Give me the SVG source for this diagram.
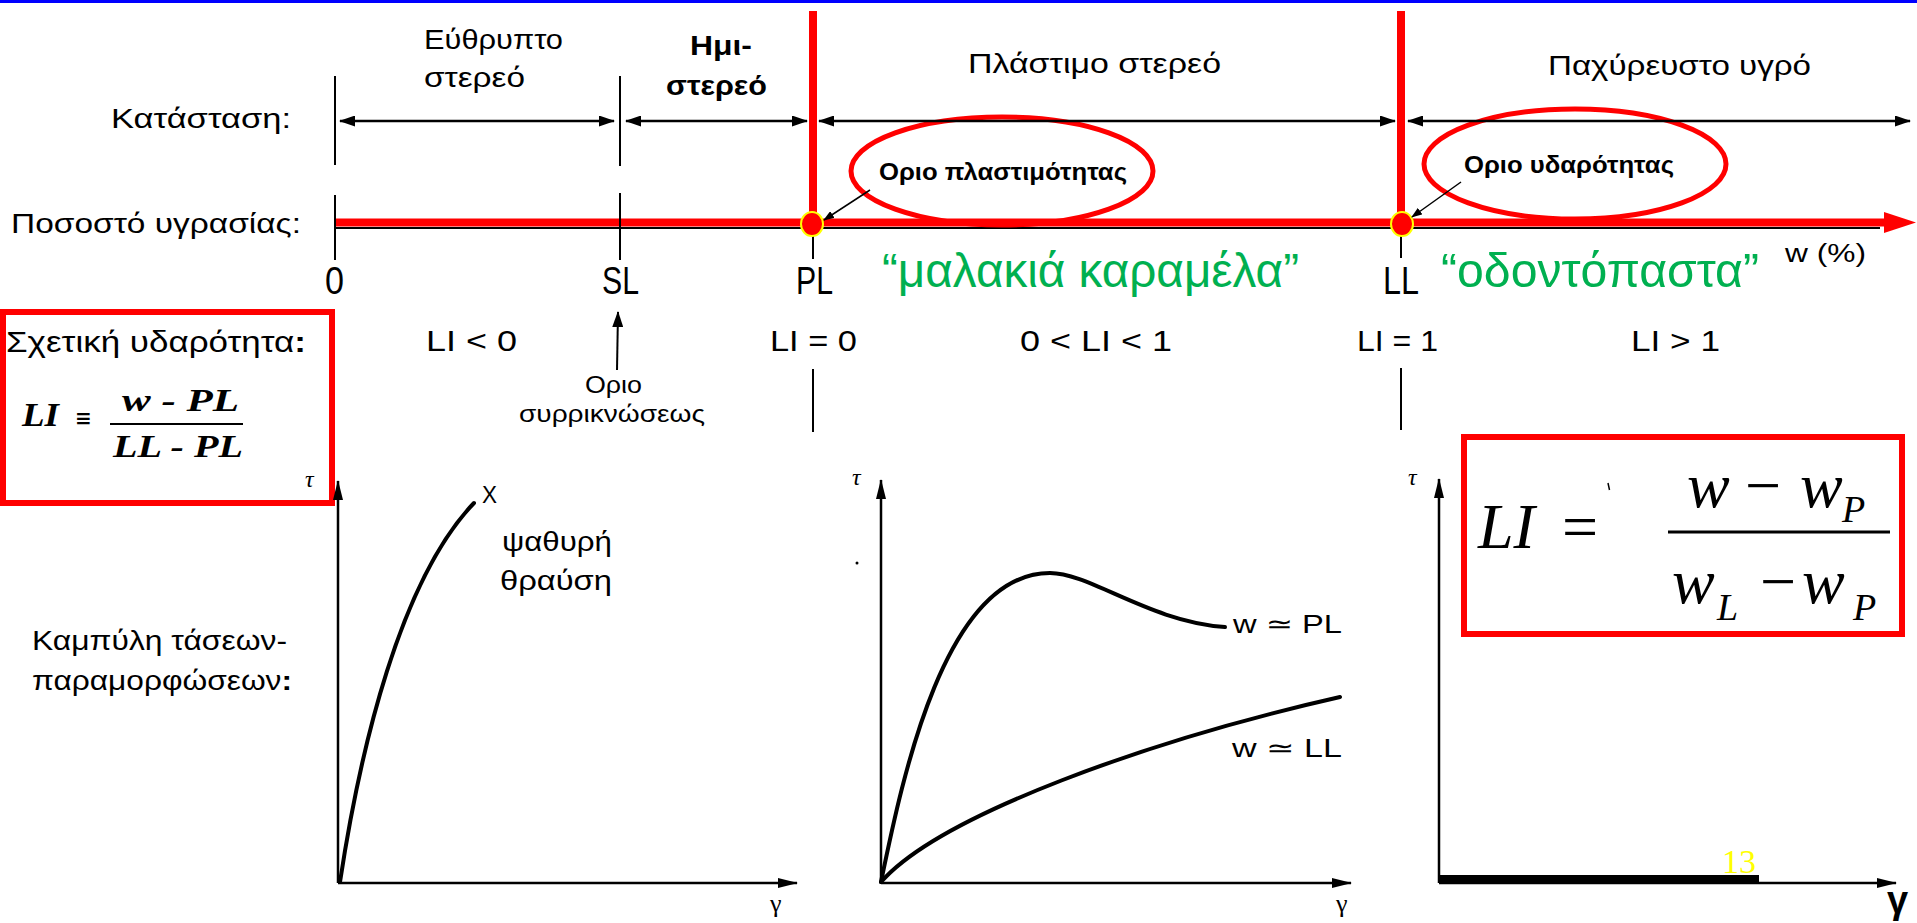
<svg xmlns="http://www.w3.org/2000/svg" width="1917" height="923" viewBox="0 0 1917 923">
<style>
text{font-family:"Liberation Sans","DejaVu Sans",sans-serif;fill:#000}
.lbl{font-size:28px}
.sm{font-size:23px}
.bold{font-weight:bold}
.green{fill:#00b050;font-size:48px}
.serif{font-family:"Liberation Serif","DejaVu Serif",serif}
.ln{stroke:#000;stroke-width:2;fill:none}
.arr{stroke:#000;stroke-width:2.5;fill:none}
.red{stroke:#ff0000;fill:none}
.curve{stroke:#000;stroke-width:4;fill:none;stroke-linecap:round}
</style>
<defs>
<marker id="ah" viewBox="0 0 16 11" refX="15" refY="5.5" markerWidth="16" markerHeight="11" markerUnits="userSpaceOnUse" orient="auto-start-reverse"><path d="M0,0 L16,5.5 L0,11 z" fill="#000"/></marker>
<marker id="ahs" viewBox="0 0 11 8" refX="10" refY="4" markerWidth="11" markerHeight="8" markerUnits="userSpaceOnUse" orient="auto"><path d="M0,0 L11,4 L0,8 z" fill="#000"/></marker>
<marker id="ahx" viewBox="0 0 20 10" refX="19" refY="5" markerWidth="20" markerHeight="10" markerUnits="userSpaceOnUse" orient="auto"><path d="M0,0 L20,5 L0,10 z" fill="#000"/></marker>
</defs>
<rect x="0" y="0" width="1917" height="3" fill="#0000ff"/>

<g id="row-labels">
<text class="lbl" x="111" y="128" textLength="180" lengthAdjust="spacingAndGlyphs">Κατάσταση:</text>
<text class="lbl" x="11" y="233" textLength="290" lengthAdjust="spacingAndGlyphs">Ποσοστό υγρασίας:</text>
<text class="lbl" x="32" y="650" textLength="255" lengthAdjust="spacingAndGlyphs">Καμπύλη τάσεων-</text>
<text class="lbl" x="32" y="690" textLength="260" lengthAdjust="spacingAndGlyphs">παραμορφώσεων<tspan font-weight="bold">:</tspan></text>
</g>

<g id="state-labels">
<text class="lbl" x="424" y="49" textLength="139" lengthAdjust="spacingAndGlyphs">Εύθρυπτο</text>
<text class="lbl" x="424" y="87" textLength="101" lengthAdjust="spacingAndGlyphs">στερεό</text>
<text class="lbl bold" x="690" y="55" textLength="62" lengthAdjust="spacingAndGlyphs">Ημι-</text>
<text class="lbl bold" x="666" y="95" textLength="101" lengthAdjust="spacingAndGlyphs">στερεό</text>
<text class="lbl" x="968" y="73" textLength="253" lengthAdjust="spacingAndGlyphs">Πλάστιμο στερεό</text>
<text class="lbl" x="1548" y="75" textLength="263" lengthAdjust="spacingAndGlyphs">Παχύρευστο υγρό</text>
</g>

<g id="moisture-axis">
<line x1="335" y1="228" x2="1880" y2="228" class="ln"/>
<line x1="335" y1="222.5" x2="1886" y2="222.5" class="red" stroke-width="8"/>
<polygon points="1884,212 1916,222.5 1884,233" fill="#ff0000"/>
<line x1="813" y1="11" x2="813" y2="222" class="red" stroke-width="8"/>
<line x1="1401" y1="11" x2="1401" y2="222" class="red" stroke-width="8"/>
<text x="1785" y="262" font-size="26" textLength="81" lengthAdjust="spacingAndGlyphs">w (%)</text>
</g>

<g id="tick-lines">
<line x1="335" y1="76" x2="335" y2="165" class="ln"/>
<line x1="335" y1="195" x2="335" y2="260" class="ln"/>
<line x1="620" y1="76" x2="620" y2="166" class="ln"/>
<line x1="620" y1="193" x2="620" y2="260" class="ln"/>
<line x1="813" y1="232" x2="813" y2="259" class="ln"/>
<line x1="1401" y1="232" x2="1401" y2="258" class="ln"/>
<line x1="813" y1="369" x2="813" y2="432" class="ln"/>
<line x1="1401" y1="368" x2="1401" y2="430" class="ln"/>
</g>

<g id="limit-labels">
<text x="325" y="294" font-size="38" textLength="19" lengthAdjust="spacingAndGlyphs">0</text>
<text x="602" y="294" font-size="38" textLength="37" lengthAdjust="spacingAndGlyphs">SL</text>
<text x="796" y="294" font-size="38" textLength="37" lengthAdjust="spacingAndGlyphs">PL</text>
<text x="1383" y="294" font-size="38" textLength="36" lengthAdjust="spacingAndGlyphs">LL</text>
</g>

<g id="plastic-limit">
<ellipse cx="1002" cy="171" rx="151" ry="54" class="red" stroke-width="5"/>
<text class="sm bold" x="879" y="180" textLength="248" lengthAdjust="spacingAndGlyphs">Οριο πλαστιμότητας</text>
<ellipse cx="812" cy="224" rx="11" ry="12" fill="#ff0000" stroke="#ffff00" stroke-width="2"/>
</g>

<g id="liquid-limit">
<ellipse cx="1575" cy="164" rx="151" ry="55" class="red" stroke-width="5"/>
<text class="sm bold" x="1464" y="173" textLength="210" lengthAdjust="spacingAndGlyphs">Οριο υδαρότητας</text>
<ellipse cx="1402" cy="224" rx="11" ry="12" fill="#ff0000" stroke="#ffff00" stroke-width="2"/>
</g>

<g id="analogies">
<text class="green" x="882" y="287" textLength="417" lengthAdjust="spacingAndGlyphs">“μαλακιά καραμέλα”</text>
<text class="green" x="1441" y="287" textLength="318" lengthAdjust="spacingAndGlyphs">“οδοντόπαστα”</text>
</g>

<g id="li-row">
<text x="426" y="351" font-size="30" textLength="91" lengthAdjust="spacingAndGlyphs">LI &lt; 0</text>
<text x="770" y="351" font-size="30" textLength="87" lengthAdjust="spacingAndGlyphs">LI = 0</text>
<text x="1020" y="351" font-size="30" textLength="152" lengthAdjust="spacingAndGlyphs">0 &lt; LI &lt; 1</text>
<text x="1357" y="351" font-size="30" textLength="81" lengthAdjust="spacingAndGlyphs">LI = 1</text>
<text x="1631" y="351" font-size="30" textLength="89" lengthAdjust="spacingAndGlyphs">LI &gt; 1</text>
</g>

<g id="shrinkage-limit">
<text class="sm" x="585" y="393" textLength="57" lengthAdjust="spacingAndGlyphs">Οριο</text>
<text class="sm" x="519" y="422" textLength="186" lengthAdjust="spacingAndGlyphs">συρρικνώσεως</text>
</g>

<g id="formula-left">
<rect x="3" y="312" width="329" height="191" class="red" stroke-width="6"/>
<text x="6" y="352" font-size="30" textLength="300" lengthAdjust="spacingAndGlyphs">Σχετική υδαρότητα<tspan font-weight="bold">:</tspan></text>
<text class="serif" x="22" y="426" font-size="34" font-weight="bold" font-style="italic" textLength="37" lengthAdjust="spacingAndGlyphs">LI</text>
<text x="75" y="425" font-size="20" font-weight="bold" style="font-family:'DejaVu Sans',sans-serif">≡</text>
<text class="serif" x="122" y="411" font-size="31" font-weight="bold" font-style="italic" textLength="117" lengthAdjust="spacingAndGlyphs">w - PL</text>
<line x1="110" y1="424" x2="243" y2="424" stroke="#000" stroke-width="2"/>
<text class="serif" x="113" y="457" font-size="31" font-weight="bold" font-style="italic" textLength="130" lengthAdjust="spacingAndGlyphs">LL - PL</text>
</g>

<g id="formula-right">
<rect x="1464" y="437" width="438" height="197" class="red" stroke-width="6"/>
<text class="serif" x="1478" y="548" font-size="64" font-style="italic">LI</text>
<text class="serif" x="1562" y="548" font-size="64">=</text>
<line x1="1608" y1="483" x2="1609.5" y2="490" stroke="#000" stroke-width="1.5"/>
<text class="serif" y="507" font-size="64" font-style="italic"><tspan x="1687">w</tspan><tspan x="1745" font-style="normal">−</tspan><tspan x="1800">w</tspan></text>
<text class="serif" x="1842" y="522" font-size="38" font-style="italic">P</text>
<line x1="1668" y1="532" x2="1890" y2="532" stroke="#000" stroke-width="3"/>
<text class="serif" y="603" font-size="64" font-style="italic"><tspan x="1672">w</tspan><tspan x="1760" font-style="normal">−</tspan><tspan x="1802">w</tspan></text>
<text class="serif" x="1717" y="620" font-size="38" font-style="italic">L</text>
<text class="serif" x="1853" y="620" font-size="38" font-style="italic">P</text>
</g>

<g id="graph-brittle">
<text class="serif" x="305" y="487" font-size="24" font-style="italic">τ</text>
<path d="M340,882 C360,750 400,580 474,503" class="curve"/>
<text x="482" y="503" font-size="24" textLength="15" lengthAdjust="spacingAndGlyphs">X</text>
<text class="lbl" x="502" y="551" textLength="110" lengthAdjust="spacingAndGlyphs">ψαθυρή</text>
<text class="lbl" x="500" y="590" textLength="112" lengthAdjust="spacingAndGlyphs">θραύση</text>
<text class="serif" x="770" y="912" font-size="26">γ</text>
</g>

<g id="graph-plastic">
<text class="serif" x="852" y="485" font-size="24" font-style="italic">τ</text>
<circle cx="857" cy="563" r="1.5" fill="#000"/>
<path d="M881,882 C903,775 945,573 1050,573 C1090,573 1150,622 1225,627" class="curve"/>
<path d="M881,882 C940,815 1150,740 1340,697" class="curve"/>
<text x="1233" y="633" font-size="26" textLength="109" lengthAdjust="spacingAndGlyphs">w ≃ PL</text>
<text x="1232" y="757" font-size="26" textLength="110" lengthAdjust="spacingAndGlyphs">w ≃ LL</text>
<text class="serif" x="1336" y="912" font-size="26">γ</text>
</g>

<g id="graph-liquid">
<text class="serif" x="1408" y="485" font-size="24" font-style="italic">τ</text>
<rect x="1439" y="875" width="320" height="8" fill="#000"/>
<text class="serif" x="1722" y="873" font-size="34" style="fill:#ffff00">13</text>
<text x="1887" y="913" font-size="38" font-weight="bold">γ</text>
</g>

<g id="connectors">
<line x1="340" y1="121" x2="614" y2="121" class="arr" marker-start="url(#ah)" marker-end="url(#ah)"/>
<line x1="626" y1="121" x2="807" y2="121" class="arr" marker-start="url(#ah)" marker-end="url(#ah)"/>
<line x1="819" y1="121" x2="1395" y2="121" class="arr" marker-start="url(#ah)" marker-end="url(#ah)"/>
<line x1="1408" y1="121" x2="1910" y2="121" class="arr" marker-start="url(#ah)" marker-end="url(#ah)"/>
<line x1="870" y1="190" x2="824" y2="220" stroke="#000" stroke-width="1.5" marker-end="url(#ahs)"/>
<line x1="1461" y1="182" x2="1412" y2="217" stroke="#000" stroke-width="1.5" marker-end="url(#ahs)"/>
<line x1="617" y1="370" x2="618" y2="312" stroke="#000" stroke-width="2" marker-end="url(#ah)"/>
<line x1="338" y1="883" x2="338" y2="481" class="arr" marker-end="url(#ahx)"/>
<line x1="338" y1="883" x2="797" y2="883" class="arr" marker-end="url(#ahx)"/>
<line x1="881" y1="883" x2="881" y2="480" class="arr" marker-end="url(#ahx)"/>
<line x1="881" y1="883" x2="1351" y2="883" class="arr" marker-end="url(#ahx)"/>
<line x1="1439" y1="883" x2="1439" y2="479" class="arr" marker-end="url(#ahx)"/>
<line x1="1439" y1="883" x2="1896" y2="883" class="arr" marker-end="url(#ahx)"/>
</g>
</svg>
